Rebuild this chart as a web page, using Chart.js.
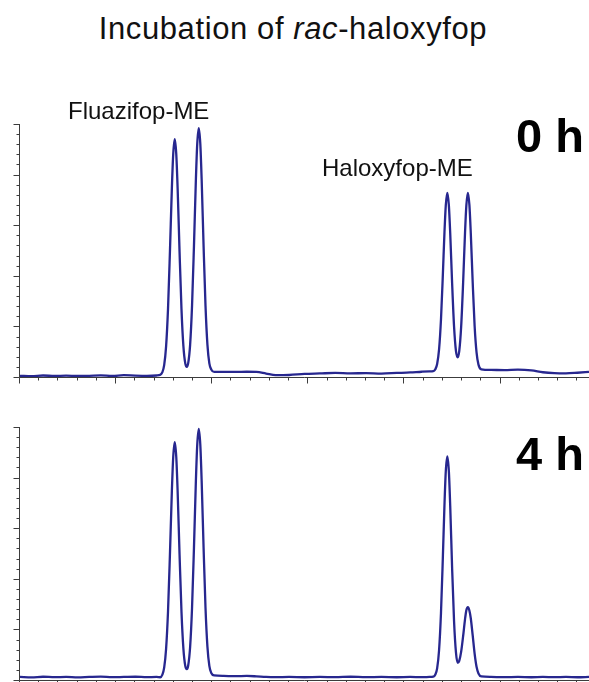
<!DOCTYPE html>
<html>
<head>
<meta charset="utf-8">
<script src="https://cdn.jsdelivr.net/npm/chart.js@4.4.1/dist/chart.umd.min.js"></script>
<style>
  body { margin:0; background:#fff; font-family:"Liberation Sans", Arial, Helvetica, sans-serif; }
  .page { position:relative; width:589px; height:682px; overflow:hidden; }
  .page canvas { position:absolute; left:0; }
  .txt { position:absolute; white-space:nowrap; color:#111; }
  .title { left:0; width:586px; text-align:center; top:13px; font-size:31px; line-height:31px; letter-spacing:0.6px; }
  .peak { font-size:24px; line-height:24px; }
  .time { font-size:47px; line-height:47px; font-weight:bold; color:#000; }
</style>
</head>
<body>
<div class="page">
  <div class="txt title">Incubation of <i>rac</i>-haloxyfop</div>
  <canvas id="chart0h" width="589" height="400" style="top:0"></canvas>
  <canvas id="chart4h" width="589" height="282" style="top:400px"></canvas>
  <div class="txt peak" style="left:68px; top:99px">Fluazifop-ME</div>
  <div class="txt peak" style="left:322px; top:156px">Haloxyfop-ME</div>
  <div class="txt time" style="left:516px; top:112px">0 h</div>
  <div class="txt time" style="left:516px; top:430px">4 h</div>
</div>
<script>
// retention time (axis units: minor tick = 1, major tick = 5)
const retentionTime = [
  0, 0.6, 1.2, 1.8, 2.4, 3.0, 3.6, 4.2, 4.8, 5.4, 6.0, 6.6, 7.1,
  7.3, 7.4, 7.5, 7.6, 7.7, 7.8, 7.9, 7.97, 8.05, 8.13, 8.2, 8.3, 8.4, 8.5, 8.6, 8.68,
  8.75, 8.85, 8.95, 9.05, 9.15, 9.22, 9.3, 9.38, 9.45, 9.55, 9.65, 9.75, 9.85, 9.95, 10.1,
  10.6, 11.2, 11.8, 12.3, 12.8, 13.3, 14.0, 14.8, 15.6, 16.4, 17.2, 18.0, 18.8, 19.6, 20.3, 20.9, 21.3,
  21.5, 21.6, 21.7, 21.8, 21.9, 22.0, 22.08, 22.15, 22.23, 22.31, 22.38, 22.48, 22.58, 22.68, 22.77,
  22.85, 22.95, 23.05, 23.15, 23.22, 23.3, 23.38, 23.45, 23.55, 23.65, 23.75, 23.85, 24.0,
  24.5, 25.2, 25.9, 26.6, 27.2, 27.8, 28.4, 29.0, 29.6
];

// detector signal at 0 h
const signal0h = [
  0.12, 0.08, 0.15, 0.1, 0.14, 0.1, 0.12, 0.16, 0.1, 0.18, 0.14, 0.12, 0.15,
  0.22, 0.45, 1.17, 3.02, 6.73, 12.39, 18.64, 22.0, 23.5, 22.0, 18.64, 12.39, 6.73, 3.05, 1.32, 1.0,
  1.37, 3.18, 7.05, 12.96, 19.51, 23.04, 24.6, 23.04, 19.51, 12.96, 7.05, 3.2, 1.35, 0.75, 0.5,
  0.5, 0.5, 0.52, 0.5, 0.34, 0.18, 0.2, 0.3, 0.35, 0.4, 0.36, 0.38, 0.34, 0.4, 0.45, 0.52, 0.55,
  0.57, 0.74, 1.28, 2.72, 5.68, 10.24, 14.23, 16.96, 18.2, 16.96, 14.23, 9.24, 4.99, 2.56, 1.95,
  2.56, 4.99, 9.24, 14.23, 16.96, 18.2, 16.96, 14.23, 9.33, 5.04, 2.43, 1.22, 0.76,
  0.7, 0.68, 0.72, 0.65, 0.47, 0.38, 0.36, 0.42, 0.5
];

// detector signal at 4 h
const signal4h = [
  0.3, 0.25, 0.32, 0.28, 0.3, 0.26, 0.3, 0.33, 0.28, 0.3, 0.32, 0.28, 0.3,
  0.27, 0.5, 1.22, 3.07, 6.77, 12.41, 18.65, 22.01, 23.5, 22.01, 18.65, 12.41, 6.77, 3.1, 1.37, 1.08,
  1.43, 3.26, 7.14, 13.09, 19.68, 23.23, 24.8, 23.23, 19.68, 13.09, 7.14, 3.3, 1.4, 0.7, 0.45,
  0.4, 0.38, 0.4, 0.36, 0.3, 0.28, 0.3, 0.27, 0.3, 0.28, 0.32, 0.28, 0.3, 0.27, 0.3, 0.28, 0.3,
  0.33, 0.52, 1.15, 2.94, 6.62, 12.27, 17.22, 20.62, 22.1, 20.62, 17.22, 11.02, 5.8, 2.7, 1.7,
  1.9, 2.8, 4.3, 6.0, 6.9, 7.2, 6.85, 6.1, 4.4, 2.6, 1.3, 0.65, 0.35,
  0.3, 0.28, 0.3, 0.27, 0.3, 0.28, 0.3, 0.27, 0.3
];

const xRange = [0, 29.6];
const yRange = [0, 25];
const majorEvery = 5;

const $ = (q) => document.querySelector(q);

// axis lines with minor/major tick marks, positioned by the chart scales
const axisTicks = {
  id: 'axisTicks',
  beforeDatasetsDraw(chart) {
    const {ctx, chartArea: a, scales: {x, y}} = chart;
    const x0 = Math.round(a.left) - 0.5, y0 = Math.round(a.bottom) + 0.5;
    ctx.save();
    ctx.strokeStyle = '#3c3c3c';
    ctx.lineWidth = 1;
    ctx.beginPath();
    ctx.moveTo(x0, Math.round(a.top)); ctx.lineTo(x0, y0); ctx.lineTo(a.right, y0);
    for (let v = 0; v <= xRange[1]; v++) {
      const px = Math.round(x.getPixelForValue(v)) - 0.5;
      ctx.moveTo(px, y0); ctx.lineTo(px, y0 + (v % majorEvery === 0 ? 6 : 3));
    }
    for (let v = 0; v <= yRange[1]; v++) {
      const py = Math.round(y.getPixelForValue(v)) + 0.5;
      ctx.moveTo(x0, py); ctx.lineTo(x0 - (v % majorEvery === 0 ? 6 : 3), py);
    }
    ctx.stroke();
    ctx.restore();
  }
};

function trace(canvas, signal, padding) {
  return new Chart(canvas, {
    type: 'line',
    data: {datasets: [{
      data: retentionTime.map((t, i) => ({x: t, y: signal[i]})),
      borderColor: '#27278f', borderWidth: 2.3, pointRadius: 0,
      cubicInterpolationMode: 'monotone', fill: false
    }]},
    options: {
      responsive: false, animation: false, events: [],
      layout: {padding},
      plugins: {legend: {display: false}, tooltip: {enabled: false}},
      scales: {
        x: {type: 'linear', min: xRange[0], max: xRange[1], display: false},
        y: {type: 'linear', min: yRange[0], max: yRange[1], display: false}
      }
    },
    plugins: [axisTicks]
  });
}

trace($('#chart0h'), signal0h, {left: 20, top: 124, right: 0, bottom: 23});
trace($('#chart4h'), signal4h, {left: 20, top: 27, right: 0, bottom: 2});
</script>
</body>
</html>
